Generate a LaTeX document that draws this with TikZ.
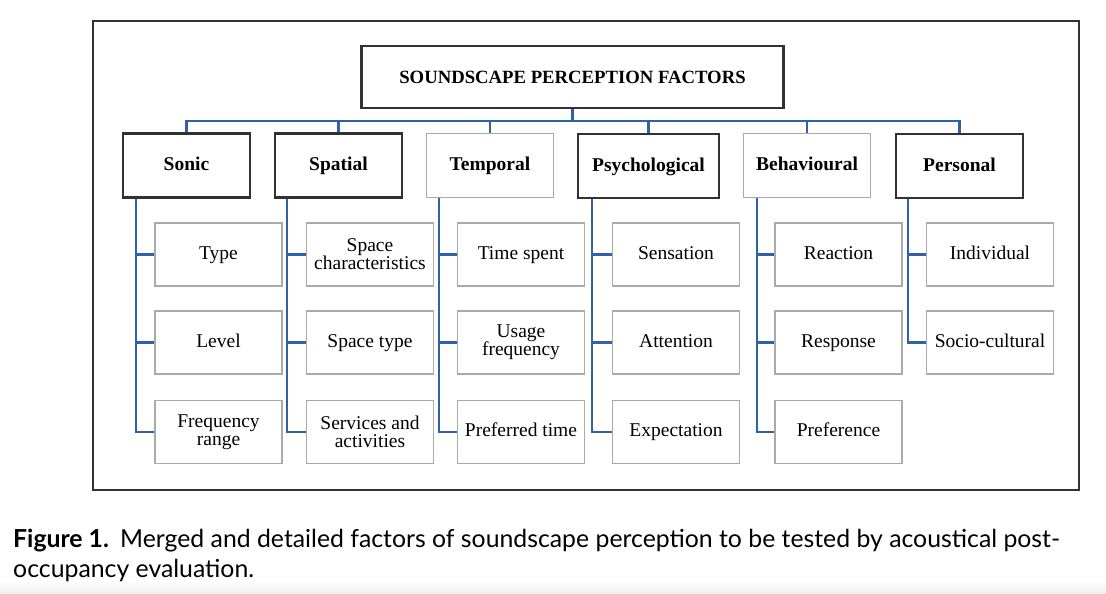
\documentclass[tikz,border=0pt]{standalone}
\usepackage{fontspec}
\setmainfont{Liberation Serif}
\newfontfamily\capfont{Lato}
\definecolor{linkblue}{RGB}{48,98,172}
\definecolor{darkedge}{RGB}{50,50,50}
\definecolor{lightedge}{RGB}{170,170,170}
\definecolor{bandgray}{RGB}{240,240,240}
\begin{document}
\begin{tikzpicture}[x=1pt,y=-1pt,
  titlebox/.style={draw=darkedge,line width=2.6pt,minimum width=422pt,minimum height=62pt,inner sep=0pt,
    text height=13pt,text depth=0pt,font=\fontsize{18.7}{20}\selectfont\bfseries},
  catdark/.style={draw=darkedge,line width=2.4pt,minimum width=127pt,minimum height=64pt,inner sep=0pt,
    text height=13.5pt,text depth=3.5pt,font=\fontsize{19.5}{20}\selectfont\bfseries},
  catlight/.style={catdark,draw=lightedge,line width=1.5pt},
  itembox/.style={draw=lightedge,line width=1.5pt,minimum width=127pt,minimum height=63pt,inner sep=0pt,
    align=center,font=\fontsize{19.5}{18}\selectfont},
  oneline/.style={itembox,text height=13.5pt,text depth=4pt},
  link/.style={draw=linkblue,line width=2.8pt},
  capline/.style={anchor=base west,inner sep=0pt,font=\capfont\fontsize{24.8}{30}\selectfont}
]
\useasboundingbox (0,0) rectangle (1106,594);
\shade[top color=white,bottom color=bandgray] (0,580) rectangle (1106,594);
\draw[darkedge,line width=1.8pt] (93,21) rectangle (1079,490);

% title
\node[titlebox] (title) at (572.5,77) {SOUNDSCAPE PERCEPTION FACTORS};
\coordinate (bus) at (572.5,121);

% categories
\node[catdark]  (sonic)  at (186.5,165.5) {Sonic};
\node[catdark]  (spat)   at (338.5,165.5) {Spatial};
\node[catlight] (temp)   at (490,165.5) {Temporal};
\node[catdark,minimum width=141pt]  (psych)  at (648.5,166) {Psychological};
\node[catlight] (behav)  at (807,165.5) {Behavioural};
\node[catdark]  (pers)   at (959.5,166) {Personal};

% bus
\draw[link] (title.south) -- (bus);
\draw[link] (sonic.north) |- (bus) -| (pers.north);
\foreach \n in {spat,temp,psych,behav}{\draw[link] (\n.north) -- (\n.north |- bus);}

% items
\node[oneline] (s1) at (218.5,254.5) {Type};
\node[oneline] (s2) at (218.5,342.5) {Level};
\node[itembox] (s3) at (218.5,432) {Frequency\\range};

\node[itembox] (p1) at (370,254.5) {Space\\characteristics};
\node[oneline] (p2) at (370,342.5) {Space type};
\node[itembox] (p3) at (370,432) {Services and\\activities};

\node[oneline] (t1) at (521,254.5) {Time spent};
\node[itembox] (t2) at (521,342.5) {Usage\\frequency};
\node[oneline] (t3) at (521,432) {Preferred time};

\node[oneline] (y1) at (676,254.5) {Sensation};
\node[oneline] (y2) at (676,342.5) {Attention};
\node[oneline] (y3) at (676,432) {Expectation};

\node[oneline] (b1) at (838.5,254.5) {Reaction};
\node[oneline] (b2) at (838.5,342.5) {Response};
\node[oneline] (b3) at (838.5,432) {Preference};

\node[oneline] (r1) at (990,254.5) {Individual};
\node[oneline] (r2) at (990,342.5) {Socio-cultural};

% spines
\coordinate (sonicsp) at (136,0);
\coordinate (spatsp) at (287,0);
\coordinate (tempsp) at (439,0);
\coordinate (psychsp) at (592,0);
\coordinate (behavsp) at (757,0);
\coordinate (perssp) at (908,0);

\draw[link] (sonicsp |- sonic.south) |- (s3.west);
\draw[link] (sonicsp |- s1.west) -- (s1.west);
\draw[link] (sonicsp |- s2.west) -- (s2.west);

\draw[link] (spatsp |- spat.south) |- (p3.west);
\draw[link] (spatsp |- p1.west) -- (p1.west);
\draw[link] (spatsp |- p2.west) -- (p2.west);

\draw[link] (tempsp |- temp.south) |- (t3.west);
\draw[link] (tempsp |- t1.west) -- (t1.west);
\draw[link] (tempsp |- t2.west) -- (t2.west);

\draw[link] (psychsp |- psych.south) |- (y3.west);
\draw[link] (psychsp |- y1.west) -- (y1.west);
\draw[link] (psychsp |- y2.west) -- (y2.west);

\draw[link] (behavsp |- behav.south) |- (b3.west);
\draw[link] (behavsp |- b1.west) -- (b1.west);
\draw[link] (behavsp |- b2.west) -- (b2.west);

\draw[link] (perssp |- pers.south) |- (r2.west);
\draw[link] (perssp |- r1.west) -- (r1.west);

% caption
\node[capline] (cap1) at (13,547) {\textbf{Figure 1.}\hspace{0.45em}Merged and detailed factors of soundscape perception to be tested by acoustical post-};
\node[capline] (cap2) at (13,577) {occupancy evaluation.};
\end{tikzpicture}
\end{document}
